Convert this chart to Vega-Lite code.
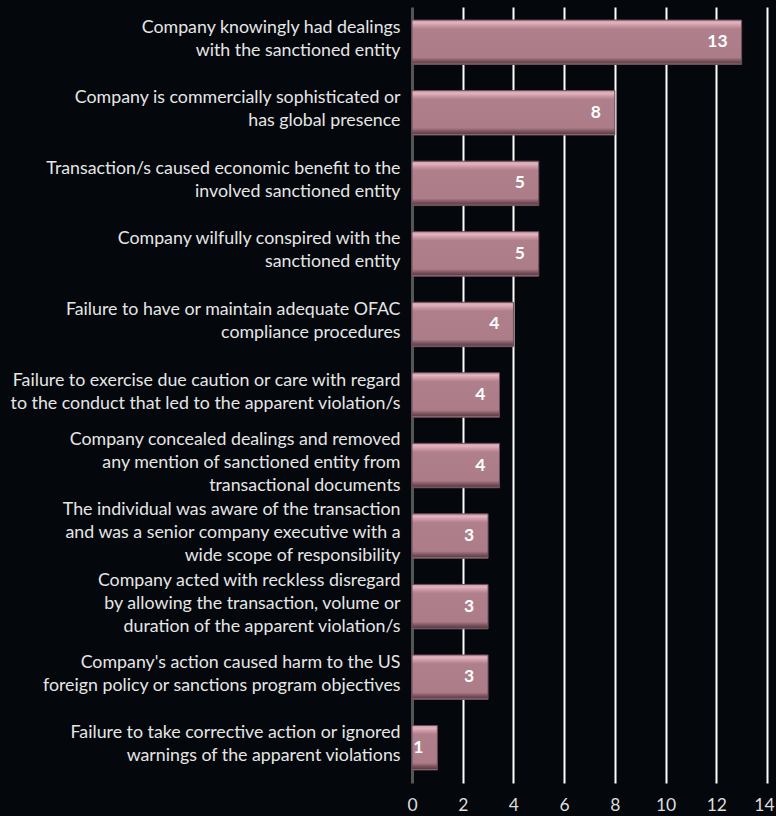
{
  "$schema": "https://vega.github.io/schema/vega-lite/v6.json",
  "autosize": "none",
  "width": 355,
  "height": 776,
  "padding": {"left": 412, "top": 7, "right": 9, "bottom": 33},
  "background": "#04070b",
  "config": {"view": {"stroke": null}, "font": "Lato"},
  "data": {
    "values": [
      {"reason": "Company knowingly had dealings|with the sanctioned entity", "value": 13, "label": "13"},
      {"reason": "Company is commercially sophisticated or|has global presence", "value": 8, "label": "8"},
      {"reason": "Transaction/s caused economic benefit to the|involved sanctioned entity", "value": 5, "label": "5"},
      {"reason": "Company wilfully conspired with the|sanctioned entity", "value": 5, "label": "5"},
      {"reason": "Failure to have or maintain adequate OFAC|compliance procedures", "value": 4, "label": "4"},
      {"reason": "Failure to exercise due caution or care with regard|to the conduct that led to the apparent violation/s", "value": 3.45, "label": "4"},
      {"reason": "Company concealed dealings and removed|any mention of sanctioned entity from|transactional documents", "value": 3.45, "label": "4"},
      {"reason": "The individual was aware of the transaction|and was a senior company executive with a|wide scope of responsibility", "value": 3, "label": "3"},
      {"reason": "Company acted with reckless disregard|by allowing the transaction, volume or|duration of the apparent violation/s", "value": 3, "label": "3"},
      {"reason": "Company's action caused harm to the US|foreign policy or sanctions program objectives", "value": 3, "label": "3"},
      {"reason": "Failure to take corrective action or ignored|warnings of the apparent violations", "value": 1, "label": "1"}
    ]
  },
  "encoding": {
    "y": {
      "field": "reason",
      "type": "nominal",
      "sort": null,
      "title": null,
      "scale": {"paddingInner": 0.37, "paddingOuter": 0.185},
      "axis": {
        "domain": false,
        "ticks": false,
        "labelExpr": "split(datum.label, '|')",
        "labelLimit": 0,
        "labelFontSize": 17.8,
        "labelLineHeight": 23,
        "labelColor": "#e6e6e6",
        "labelPadding": 12,
        "labelAlign": "right",
        "labelOffset": {"condition": {"test": "length(split(datum.value, '|')) == 3", "value": -26}, "value": -14.5}
      }
    }
  },
  "layer": [
    {
      "mark": {
        "type": "bar",
        "fill": {
          "gradient": "linear",
          "x1": 0, "y1": 0, "x2": 0, "y2": 1,
          "stops": [
            {"offset": 0, "color": "#c99aa6"},
            {"offset": 0.06, "color": "#e2b3c0"},
            {"offset": 0.14, "color": "#c7929f"},
            {"offset": 0.2, "color": "#b07f8c"},
            {"offset": 0.84, "color": "#ad7c89"},
            {"offset": 0.92, "color": "#7a525d"},
            {"offset": 0.97, "color": "#5e414a"},
            {"offset": 1, "color": "#c8a3ad"}
          ]
        },
        "stroke": "#6e4d57",
        "strokeWidth": 1
      },
      "encoding": {
        "x": {
          "field": "value",
          "type": "quantitative",
          "title": null,
          "scale": {"domain": [0, 14], "nice": false},
          "axis": {
            "values": [0, 2, 4, 6, 8, 10, 12, 14],
            "domain": false,
            "ticks": false,
            "grid": true,
            "gridColor": {"condition": {"test": "datum.value === 0", "value": "#555555"}, "value": "#ffffff"},
            "gridWidth": {"condition": {"test": "datum.value === 0", "value": 3}, "value": 2},
            "gridOpacity": 1,
            "labelFontSize": 17.5,
            "labelColor": "#dddddd",
            "labelPadding": 13,
            "labelFlush": false,
            "labelOffset": {"condition": {"test": "datum.value === 14", "value": -3}, "value": 0}
          }
        }
      }
    },
    {
      "mark": {
        "type": "text",
        "align": "right",
        "baseline": "middle",
        "dx": -14,
        "color": "#ffffff",
        "fontSize": 17.5,
        "fontWeight": "bold"
      },
      "encoding": {
        "x": {"field": "value", "type": "quantitative"},
        "text": {"field": "label"}
      }
    }
  ]
}
